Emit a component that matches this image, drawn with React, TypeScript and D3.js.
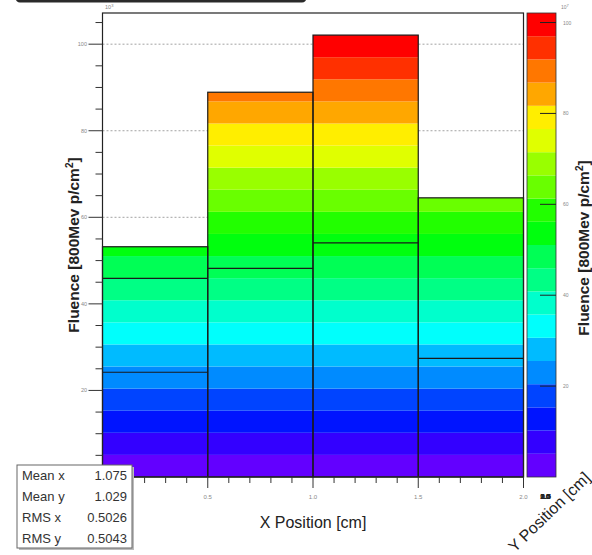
import * as d3 from 'd3';

// x bins (cm)
const xEdges = [0, 0.5, 1.0, 1.5, 2.0];
// bin content (front view height), units of 10^x
const binTops = [53.2, 88.9, 102.1, 64.5];
// edges of the rear lego cells seen through the front
const innerEdges = [[45.9, 24.2], [48.2], [54.1], [27.4]];

const yTicks = [20, 40, 60, 80, 100];
const xTickLabels = ['0.5', '1.0', '1.5', '2.0'];
const zTicks = [20, 40, 60, 80, 100];
const yPosLabels = ['0.0', '0.5', '1.0', '1.5', '2.0'];

const statNames = ['Mean x', 'Mean y', 'RMS x', 'RMS y'];
const statValues = ['1.075', '1.029', '0.5026', '0.5043'];

const nLevels = 20;

// ROOT "pretty" palette (50 colours, hue 280 -> 0)
function levelColor(k: number) {
  const idx = Math.floor((k + 0.99) * 50 / nLevels);
  const hue = 280 - (idx + 1) * (280 / 50);
  return d3.hsl(hue, 1, 0.5).formatHex();
}

export default function App() {
  const W = 592;
  const H = 555;
  const zMax = d3.max(binTops) as number;
  const step = zMax / nLevels;

  const x = d3.scaleLinear().domain([0, 2]).range([102.5, 523.5]);
  const y = d3.scaleLinear().domain([0, zMax * 1.05]).range([477, 13]);
  const z = d3.scaleLinear().domain([0, zMax]).range([477, 13]);

  const font = '"Liberation Sans", Arial, Helvetica, sans-serif';
  const minorY = d3.range(0, zMax * 1.05, 5);
  const minorX = d3.range(0, 2.0001, 0.1);
  const levels = d3.range(nLevels);

  return (
    <svg
      width={W}
      height={H}
      style={{ position: 'absolute', left: 0, top: 0, display: 'block', background: '#fff' }}
      fontFamily={font}
    >
      {/* title box, mostly cut off */}
      <rect x={17} y={-24} width={288} height={25} rx={3} fill="#fff" stroke="#2a2a2a" strokeWidth={3} />

      {/* grid */}
      {yTicks.map((t) => (
        <line key={'g' + t} x1={x(0)} x2={x(2)} y1={y(t)} y2={y(t)} stroke="#8a8a8a" strokeWidth={0.8} strokeDasharray="2,2" />
      ))}

      {/* lego bars coloured by level */}
      {binTops.map((top, i) => {
        const x0 = x(xEdges[i]);
        const x1 = x(xEdges[i + 1]);
        return (
          <g key={'b' + i}>
            {levels
              .filter((k) => k * step < top)
              .map((k) => {
                const lo = k * step;
                const hi = Math.min((k + 1) * step, top);
                return (
                  <rect key={k} x={x0} y={y(hi)} width={x1 - x0} height={y(lo) - y(hi)} fill={levelColor(k)} />
                );
              })}
          </g>
        );
      })}
      {binTops.map((top, i) => {
        const x0 = x(xEdges[i]);
        const x1 = x(xEdges[i + 1]);
        return (
          <g key={'o' + i} stroke="#1a1a1a" strokeWidth={1.2} fill="none">
            <rect x={x0} y={y(top)} width={x1 - x0} height={y(0) - y(top)} />
            {innerEdges[i].map((v, j) => (
              <line key={j} x1={x0} x2={x1} y1={y(v)} y2={y(v)} />
            ))}
          </g>
        );
      })}

      {/* frame */}
      <rect x={x(0)} y={13} width={x(2) - x(0)} height={477 - 13} fill="none" stroke="#222" strokeWidth={1.2} />

      {/* y axis ticks */}
      {minorY.map((v) => (
        <line key={'my' + v} x1={x(0) - (v % 20 === 0 ? 14 : 7)} x2={x(0)} y1={y(v)} y2={y(v)} stroke="#333" strokeWidth={1} />
      ))}
      {yTicks.map((t) => (
        <text key={'yl' + t} x={87} y={y(t) + 2} fontSize={5.5} fill="#888" textAnchor="end">{t}</text>
      ))}
      <text x={105} y={9} fontSize={5.5} fill="#888">10<tspan dy={-2} fontSize={4}>3</tspan></text>

      {/* x axis ticks */}
      {minorX.map((v, i) => (
        <line key={'mx' + i} x1={x(v)} x2={x(v)} y1={477} y2={477 + (i % 5 === 0 ? 11 : 6)} stroke="#333" strokeWidth={1} />
      ))}
      {xTickLabels.map((t) => (
        <text key={'xl' + t} x={x(+t)} y={499} fontSize={6} fill="#888" textAnchor="middle">{t}</text>
      ))}
      {yPosLabels.map((t, i) => (
        <text key={'yp' + t} x={545 + (i % 2)} y={499} fontSize={7} fontWeight="bold" fill="#222" textAnchor="middle">{t}</text>
      ))}

      {/* axis titles */}
      <text x={313} y={528} fontSize={16} fill="#222" textAnchor="middle">X Position [cm]</text>
      <text transform="translate(79,245) rotate(-90)" fontSize={15.5} fontWeight="bold" fill="#222" textAnchor="middle">
        Fluence [800Mev p/cm<tspan dy={-6} fontSize={10}>2</tspan><tspan dy={6}>]</tspan>
      </text>
      <text transform="translate(589,248) rotate(-90)" fontSize={15.5} fontWeight="bold" fill="#222" textAnchor="middle">
        Fluence [800Mev p/cm<tspan dy={-6} fontSize={10}>2</tspan><tspan dy={6}>]</tspan>
      </text>
      <text transform="translate(553,516) rotate(-44)" fontSize={16} fill="#222" textAnchor="middle">Y Position [cm]</text>

      {/* colour palette */}
      {levels.map((k) => (
        <rect key={'z' + k} x={527} y={z((k + 1) * step)} width={29} height={z(k * step) - z((k + 1) * step)} fill={levelColor(k)} />
      ))}
      <rect x={527} y={13} width={29} height={464} fill="none" stroke="#333" strokeWidth={0.8} />
      {zTicks.map((t) => (
        <g key={'zt' + t}>
          <line x1={540} x2={556} y1={z(t)} y2={z(t)} stroke="#222" strokeWidth={1} />
          <text x={563} y={z(t) + 2} fontSize={5} fill="#888">{t}</text>
        </g>
      ))}
      <text x={561} y={9} fontSize={5} fill="#888">10<tspan dy={-2} fontSize={4}>7</tspan></text>

      {/* stats box */}
      <rect x={19} y={467} width={115} height={83} fill="#bbb" />
      <rect x={17} y={465} width={115} height={83} fill="#fff" stroke="#666" strokeWidth={1} />
      {statNames.map((n, i) => (
        <g key={'s' + i} fontSize={13} fill="#333">
          <text x={22} y={480 + i * 21}>{n}</text>
          <text x={127} y={480 + i * 21} textAnchor="end">{statValues[i]}</text>
        </g>
      ))}
    </svg>
  );
}
